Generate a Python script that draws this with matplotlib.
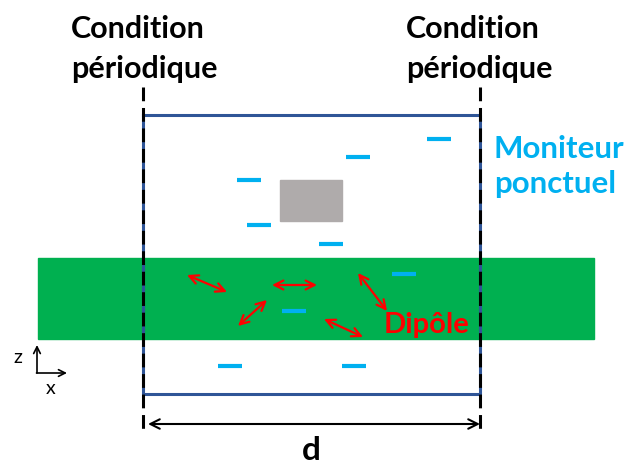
import matplotlib.pyplot as plt
from matplotlib.patches import Rectangle

# cellule de simulation (coordonnees en pixels, y vers le bas)
band_x = [38, 594]
band_y = [259, 340]
box_x = [143, 480]
box_y = [116, 395]
obj_rect = [280, 181, 342, 222]

# moniteurs ponctuels (centres)
mon_x = [249, 358, 439, 259, 331, 404, 294, 230, 354]
mon_y = [181, 158, 140, 226, 245, 275, 312, 367, 367]
mon_len = 24

# dipoles (debut, fin)
dip_start = [(187, 276), (272, 286), (358, 274), (267, 301), (324, 320)]
dip_end = [(227, 293), (317, 286), (387, 312), (238, 327), (363, 338)]

BLUE = '#2F5597'
GREEN = '#00B050'
CYAN = '#00B0F0'
GRAY = '#AFABAB'
RED = '#FF0000'
FONT = 'Lato'

fig = plt.figure(figsize=(6.28, 4.64), dpi=100)
ax = fig.add_axes([0, 0, 1, 1])
ax.set_xlim(0, 628)
ax.set_ylim(464, 0)
ax.axis('off')

# couche verte
ax.add_patch(Rectangle((band_x[0], band_y[0]), band_x[1] - band_x[0],
                       band_y[1] - band_y[0], color=GREEN, zorder=1))

# boite de simulation
ax.plot([box_x[0], box_x[1], box_x[1], box_x[0], box_x[0]],
        [box_y[0], box_y[0], box_y[1], box_y[1], box_y[0]],
        color=BLUE, lw=2.2, zorder=3)

# conditions periodiques (lignes pointillees)
for xx in box_x:
    ax.plot([xx, xx], [88, 432], color='black', lw=2.2,
            dashes=(4.5, 2.2), zorder=4)

# objet gris
ax.add_patch(Rectangle((obj_rect[0], obj_rect[1]), obj_rect[2] - obj_rect[0],
                       obj_rect[3] - obj_rect[1], color=GRAY, zorder=2))

# moniteurs
for mx, my in zip(mon_x, mon_y):
    ax.plot([mx - mon_len / 2, mx + mon_len / 2], [my, my], color=CYAN,
            lw=3, solid_capstyle='butt', zorder=5)

# dipoles
for s, e in zip(dip_start, dip_end):
    ax.annotate('', xy=e, xytext=s,
                arrowprops=dict(arrowstyle='<->', color=RED, lw=1.6,
                                mutation_scale=16, shrinkA=0, shrinkB=0),
                zorder=6)

# fleche d
ax.annotate('', xy=(480, 425), xytext=(148, 425),
            arrowprops=dict(arrowstyle='<->', color='black', lw=1.5,
                            mutation_scale=17, shrinkA=0, shrinkB=0))
ax.text(311, 460, 'd', fontsize=24, fontweight='bold', family=FONT,
        ha='center', va='baseline')

# repere z / x
ax.annotate('', xy=(37, 346), xytext=(37, 374),
            arrowprops=dict(arrowstyle='->', color='black', lw=1.2,
                            mutation_scale=12, shrinkA=0, shrinkB=0))
ax.annotate('', xy=(67, 374), xytext=(36.5, 374),
            arrowprops=dict(arrowstyle='->', color='black', lw=1.2,
                            mutation_scale=12, shrinkA=0, shrinkB=0))
ax.text(18, 358, 'z', fontsize=14, family=FONT, ha='center', va='center')
ax.text(51, 389, 'x', fontsize=14, family=FONT, ha='center', va='center')

# textes
for lx in [71, 406]:
    ax.text(lx, 38, 'Condition', fontsize=22, fontweight='bold',
            family=FONT, ha='left', va='baseline')
    ax.text(lx, 78, 'périodique', fontsize=22, fontweight='bold',
            family=FONT, ha='left', va='baseline')
ax.text(494, 158, 'Moniteur', fontsize=22.5, fontweight='bold',
        family=FONT, color=CYAN, ha='left', va='baseline')
ax.text(494, 193, 'ponctuel', fontsize=22.5, fontweight='bold',
        family=FONT, color=CYAN, ha='left', va='baseline')
ax.text(384, 333, 'Dipôle', fontsize=21, fontweight='bold', family=FONT,
        color=RED, ha='left', va='baseline')

fig.savefig('out.png', dpi=100)
